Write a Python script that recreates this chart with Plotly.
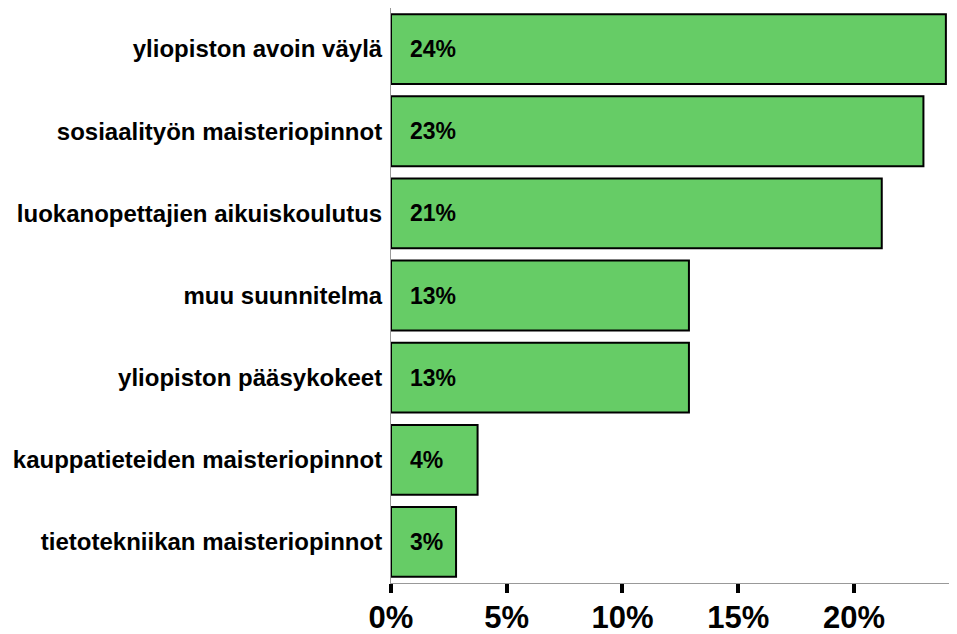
import plotly.graph_objects as go

categories = [
    "yliopiston avoin väylä",
    "sosiaalityön maisteriopinnot",
    "luokanopettajien aikuiskoulutus",
    "muu suunnitelma",
    "yliopiston pääsykokeet",
    "kauppatieteiden maisteriopinnot",
    "tietotekniikan maisteriopinnot",
]
values = [23.97, 23.0, 21.2, 12.87, 12.87, 3.74, 2.81]
labels = ["24%", "23%", "21%", "13%", "13%", "4%", "3%"]
tick_vals = [0, 5, 10, 15, 20]
tick_text = ["0%", "5%", "10%", "15%", "20%"]

FONT = "Liberation Sans, Arial, sans-serif"

fig = go.Figure(
    go.Bar(
        x=values,
        y=categories,
        orientation="h",
        marker=dict(color="#66CC66", line=dict(color="#000000", width=2)),
        hoverinfo="skip",
    )
)

for cat, lab in zip(categories, labels):
    fig.add_annotation(
        x=0, y=cat, text="<b>%s</b>" % lab, showarrow=False,
        xanchor="left", yanchor="middle", xshift=17,
        font=dict(family=FONT, size=23, color="#000000"),
    )

# page body has an 8px default margin, so margins are offset by 8px
fig.update_layout(
    width=957, height=634,
    margin=dict(l=383, r=8, t=0, b=59, pad=0),
    paper_bgcolor="white", plot_bgcolor="white",
    bargap=0.15,
    showlegend=False,
    font=dict(family=FONT, color="#000000"),
)
fig.update_xaxes(
    automargin=False,
    range=[0, 24.45],
    tickvals=tick_vals,
    ticktext=["<b>%s</b>" % t for t in tick_text],
    tickfont=dict(family=FONT, size=31, color="#000000"),
    ticks="outside", ticklen=9, tickwidth=4, tickcolor="#000000",
    ticklabelstandoff=-2,
    showline=True, linecolor="#999999", linewidth=1, mirror=True,
    showgrid=False, zeroline=False,
)
fig.update_yaxes(
    automargin=False,
    categoryorder="array", categoryarray=categories[::-1],
    tickvals=categories,
    ticktext=["<b>%s</b>" % c for c in categories],
    tickfont=dict(family=FONT, size=24, color="#000000"),
    ticks="", ticklabelstandoff=3,
    showline=True, linecolor="#999999", linewidth=1,
    showgrid=False, zeroline=False,
)

fig.write_html("out.html")
